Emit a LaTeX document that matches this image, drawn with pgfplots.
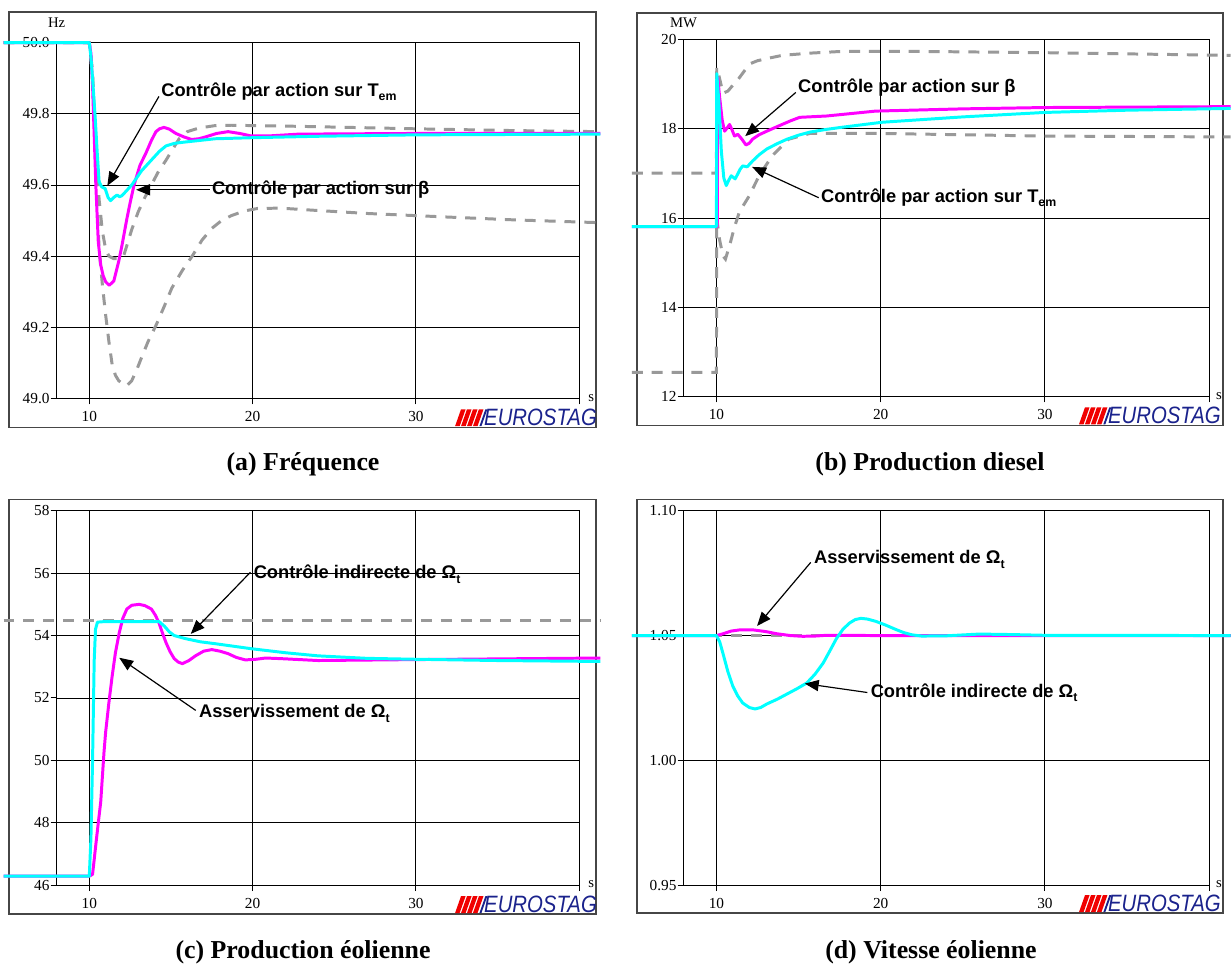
\documentclass[border=0pt]{standalone}
\usepackage{fontspec}
\setmainfont{Liberation Serif}
\newfontfamily\annf{Liberation Sans}
\usepackage{pgfplots}
\pgfplotsset{compat=1.18}
\usetikzlibrary{arrows.meta}

\definecolor{mag}{RGB}{255,0,255}
\definecolor{cyc}{RGB}{0,255,255}
\definecolor{gdash}{RGB}{153,153,153}
\definecolor{framec}{RGB}{70,70,70}
\definecolor{logoblue}{RGB}{26,34,140}
\definecolor{logored}{RGB}{240,0,0}

\newcommand\sub[1]{\raisebox{-0.45ex}{\fontsize{6.2}{6.2}\selectfont #1}}

\pgfplotsset{
  eurostag/.style={
    scale only axis, clip=false,
    xmin=8, xmax=40,
    xtick={10,20,30,40}, xticklabels={10,20,30,{}},
    grid=major, major grid style={black, line width=0.45pt},
    axis line style={black, line width=0.5pt},
    tick align=outside, tick pos=left, major tick length=3pt,
    tick style={black, line width=0.5pt},
    /pgf/number format/assume math mode=true,
    ticklabel style={font=\fontsize{7.7}{8.5}\selectfont},
    yticklabel style={inner sep=0.4pt},
  },
  mg/.style={draw=mag, line width=1.5pt, line join=round},
  cy/.style={draw=cyc, line width=1.5pt, line join=round},
  gd/.style={draw=gdash, line width=1.5pt, dash pattern=on 5.5pt off 4.5pt},
}

\tikzset{
  ann/.style={font=\annf\bfseries\fontsize{9.2}{10}\selectfont, anchor=west, inner sep=0pt},
  arr/.style={-{Triangle[length=7pt,width=5.6pt]}, line width=0.6pt, black},
  unit/.style={font=\fontsize{7.4}{8}\selectfont, inner sep=0pt},
  capt/.style={font=\bfseries\fontsize{13}{14}\selectfont, inner sep=0pt},
}

\newcommand\logo[2]{%
  \begin{scope}[shift={(#1,#2)}]
    \foreach \i in {0,1,2,3} {
      \fill[logored] ({\i*6},0) -- ({\i*6+4.6},0) -- ({\i*6+10.6},-17) -- ({\i*6+6},-17) -- cycle;
    }
    \fill[logoblue] (24.5,0) -- (26.5,0) -- (32.5,-17) -- (30.5,-17) -- cycle;
    \node[anchor=south west, inner sep=0pt, text=logoblue, xscale=0.86,
      font=\annf\itshape\fontsize{11.9}{12}\selectfont] at (29,0) {EUROSTAG};
  \end{scope}}

\begin{document}
\begin{tikzpicture}
\begin{scope}[x=0.5pt,y=-0.5pt]
  \path[use as bounding box] (0,0) rectangle (1232,970);
  \fill[white] (0,0) rectangle (1232,970);
  \draw[framec, line width=0.65pt] (9,12) rectangle (600,430);
  \draw[framec, line width=0.65pt] (641,13) rectangle (1231,428);
  \draw[framec, line width=0.65pt] (9,503) rectangle (600,920);
  \draw[framec, line width=0.65pt] (641,503) rectangle (1231,919);
\end{scope}

% ---------------- (a) Frequence ----------------
\begin{axis}[eurostag, at={(28.5pt,-200.5pt)}, anchor=south west,
  width=263pt, height=179pt, ymin=49, ymax=50,
  ytick={49.0,49.2,49.4,49.6,49.8,50.0},
  yticklabel style={/pgf/number format/.cd, fixed, fixed zerofill, precision=1}]
\addplot[gd] coordinates {
(4.75,50.0) (10.0,50.0) (10.2,49.92) (10.4,49.65) (10.6,49.42) (10.8,49.32)
(11.0,49.235) (11.2,49.16) (11.4,49.095) (11.6,49.065) (11.8,49.05) (12.05,49.04)
(12.3,49.036) (12.6,49.05) (12.9,49.08) (13.2,49.115) (13.6,49.16) (14.1,49.207)
(14.6,49.26) (15.05,49.31) (15.7,49.36) (16.3,49.40) (16.9,49.445) (17.5,49.478)
(18.1,49.50) (18.7,49.514) (19.5,49.527) (20.3,49.534) (21.7,49.535) (23.4,49.53)
(27.0,49.52) (31.9,49.51) (36.0,49.502) (41.3,49.494)};
\addplot[gd] coordinates {
(4.75,50.0) (10.0,50.0) (10.2,49.90) (10.4,49.72) (10.6,49.56) (10.8,49.47)
(11.0,49.42) (11.2,49.40) (11.5,49.393) (11.8,49.393) (12.1,49.40) (12.3,49.43)
(12.6,49.475) (13.0,49.525) (13.4,49.565) (13.8,49.60) (14.2,49.635) (14.7,49.67)
(15.1,49.70) (15.5,49.73) (16.0,49.75) (16.7,49.76) (17.7,49.767) (18.7,49.768)
(22.8,49.765) (30,49.758) (36,49.753) (41.3,49.75)};
\addplot[mg] coordinates {
(4.75,50.0) (10.0,50.0) (10.1,49.97) (10.2,49.88) (10.3,49.74) (10.4,49.60)
(10.55,49.44) (10.7,49.375) (10.85,49.345) (11.0,49.328) (11.22,49.318) (11.5,49.33)
(11.8,49.385) (12.0,49.43) (12.3,49.505) (12.5,49.55) (12.74,49.60) (13.1,49.655)
(13.47,49.69) (13.8,49.725) (14.08,49.75) (14.3,49.758) (14.57,49.762) (14.9,49.757)
(15.3,49.745) (15.8,49.735) (16.27,49.728) (16.7,49.73) (17.1,49.735) (17.8,49.745)
(18.5,49.75) (19.2,49.745) (19.9,49.738) (21,49.738) (22.8,49.743) (30,49.745) (41.3,49.745)};
\addplot[cy] coordinates {
(4.75,50.0) (10.0,50.0) (10.1,49.96) (10.2,49.90) (10.36,49.79) (10.5,49.68)
(10.6,49.61) (10.75,49.595) (10.97,49.59) (11.15,49.565) (11.3,49.556) (11.5,49.565)
(11.7,49.572) (11.85,49.567) (12.0,49.57) (12.3,49.585) (12.6,49.60) (12.9,49.62)
(13.2,49.64) (13.8,49.67) (14.3,49.695) (14.7,49.71) (15.2,49.717) (15.7,49.72)
(17.7,49.73) (20,49.733) (24,49.737) (30,49.741) (41.3,49.743)};
\end{axis}

% ---------------- (b) Production diesel ----------------
\begin{axis}[eurostag, at={(344pt,-199.5pt)}, anchor=south west,
  width=264.5pt, height=179.5pt, ymin=12, ymax=20,
  ytick={12,14,16,18,20}]
\addplot[gd] coordinates {
(4.85,17.01) (10.0,17.01) (10.02,19.38) (10.15,19.2) (10.4,18.8) (10.7,18.85)
(11.0,18.98) (11.3,19.1) (11.7,19.3) (12.1,19.47) (12.5,19.53) (13.1,19.58)
(14.0,19.65) (15.7,19.70) (17.7,19.74) (22,19.74) (30,19.71) (41.3,19.65)};
\addplot[gd] coordinates {
(4.85,12.54) (10.0,12.54) (10.02,16.0) (10.2,15.5) (10.4,15.15) (10.55,15.08)
(10.85,15.45) (11.1,15.8) (11.4,16.14) (12.0,16.5) (12.6,16.95) (13.4,17.4)
(14.4,17.77) (15.7,17.9) (19.7,17.9) (30,17.84) (41.3,17.82)};
\addplot[mg] coordinates {
(4.85,15.81) (10.05,15.81) (10.08,19.15) (10.2,18.7) (10.35,18.2) (10.5,17.95)
(10.65,18.02) (10.8,18.1) (10.95,17.98) (11.1,17.84) (11.3,17.88) (11.55,17.77)
(11.8,17.64) (12.0,17.68) (12.2,17.77) (12.6,17.87) (13.07,17.95) (13.5,18.02)
(14.0,18.1) (14.5,18.18) (15.07,18.26) (16.7,18.29) (19.7,18.40) (25,18.45)
(30,18.48) (41.3,18.5)};
\addplot[cy] coordinates {
(4.85,15.81) (10.0,15.81) (10.02,19.24) (10.15,18.6) (10.3,17.5) (10.45,16.9)
(10.6,16.73) (10.75,16.85) (10.9,16.95) (11.14,16.88) (11.3,16.99) (11.45,17.1)
(11.6,17.17) (11.75,17.16) (11.87,17.15) (12.05,17.22) (12.2,17.28) (12.6,17.42)
(13.07,17.55) (13.7,17.67) (14.3,17.77) (15.0,17.86) (15.7,17.93) (16.7,17.99)
(17.7,18.04) (20.1,18.15) (25,18.27) (30,18.37) (35,18.42) (41.3,18.46)};
\end{axis}

% ---------------- (c) Production eolienne ----------------
\begin{axis}[eurostag, at={(28.5pt,-445.5pt)}, anchor=south west,
  width=263pt, height=188.5pt, ymin=46, ymax=58,
  ytick={46,48,50,52,54,56,58}]
\addplot[gd] coordinates {(4.75,54.47) (41.3,54.47)};
\addplot[mg] coordinates {
(4.75,46.29) (10.0,46.29) (10.2,46.35) (10.4,47.3) (10.55,48.0) (10.7,48.67)
(10.9,50.26) (11.0,50.9) (11.2,51.85) (11.4,52.7) (11.6,53.45) (11.83,54.08)
(12.05,54.55) (12.3,54.85) (12.6,54.97) (13.05,55.0) (13.4,54.96) (13.8,54.85)
(14.05,54.65) (14.27,54.4) (14.5,54.05) (14.7,53.77) (14.95,53.48) (15.2,53.26)
(15.45,53.15) (15.7,53.1) (16.1,53.2) (16.5,53.35) (17.0,53.5) (17.5,53.55)
(18.0,53.5) (18.5,53.42) (19.0,53.3) (19.55,53.22) (20.2,53.24) (20.8,53.28)
(21.75,53.26) (24,53.2) (30,53.23) (41.3,53.28)};
\addplot[cy] coordinates {
(4.75,46.29) (10.0,46.29) (10.1,47.5) (10.2,50.0) (10.3,53.2) (10.38,54.2)
(10.5,54.43) (11,54.45) (14.27,54.45) (14.6,54.3) (14.9,54.12) (15.2,54.0)
(15.9,53.9) (16.8,53.8) (17.7,53.74) (19.9,53.58) (22,53.45) (24,53.35)
(27,53.27) (30,53.24) (35,53.2) (41.3,53.17)};
\end{axis}

% ---------------- (d) Vitesse eolienne ----------------
\begin{axis}[eurostag, at={(344pt,-445.5pt)}, anchor=south west,
  width=264.5pt, height=188.5pt, ymin=0.95, ymax=1.10,
  ytick={0.95,1.00,1.05,1.10},
  yticklabel style={/pgf/number format/.cd, fixed, fixed zerofill, precision=2}]
\addplot[gd] coordinates {(4.85,1.05) (41.3,1.05)};
\addplot[mg] coordinates {
(4.85,1.05) (10.0,1.05) (10.4,1.0507) (10.9,1.0518) (11.45,1.0523) (12.2,1.0523)
(13.0,1.0516) (13.7,1.0507) (14.5,1.0500) (15.25,1.0497) (16.0,1.0498) (16.7,1.0501)
(20,1.0500) (41.3,1.0500)};
\addplot[cy] coordinates {
(4.85,1.05) (10.0,1.05) (10.2,1.0475) (10.4,1.0428) (10.7,1.0355) (11.0,1.0297)
(11.3,1.0258) (11.6,1.0230) (12.0,1.0212) (12.35,1.0206) (12.7,1.0212) (13.07,1.0226)
(13.7,1.0245) (14.3,1.0266) (14.9,1.0287) (15.5,1.031) (16.0,1.0345) (16.5,1.039)
(16.9,1.0438) (17.3,1.0487) (17.7,1.0525) (18.1,1.055) (18.45,1.0564) (18.8,1.0569)
(19.2,1.0566) (19.7,1.0557) (20.3,1.0542) (20.9,1.0525) (21.4,1.0512) (21.9,1.0503)
(22.5,1.0498) (24,1.0499) (26,1.0506) (28,1.0504) (30,1.0501) (41.3,1.05)};
\end{axis}

\begin{scope}[x=0.5pt,y=-0.5pt]
  % units
  \node[unit] at (57,23) {Hz};
  \node[unit] at (688,23) {MW};
  \node[unit] at (595,401) {s};
  \node[unit] at (1227,399) {s};
  \node[unit] at (595,890) {s};
  \node[unit] at (1227,890) {s};
  % annotations (a)
  \node[ann] at (162,92) {Contrôle par action sur T\sub{em}};
  \draw[arr] (160,97) -- (108,187);
  \node[ann] at (213,191) {Contrôle par action sur β};
  \draw[arr] (211,191) -- (137,191);
  % annotations (b)
  \node[ann] at (803,88) {Contrôle par action sur β};
  \draw[arr] (801,93) -- (750,137);
  \node[ann] at (826,199) {Contrôle par action sur T\sub{em}};
  \draw[arr] (824,199) -- (757,168);
  % annotations (c)
  \node[ann] at (255,578) {Contrôle indirecte de Ω\sub{t}};
  \draw[arr] (252,576) -- (192,638);
  \node[ann] at (200,718) {Asservissement de Ω\sub{t}};
  \draw[arr] (197,715) -- (120,662);
  % annotations (d)
  \node[ann] at (819,563) {Asservissement de Ω\sub{t}};
  \draw[arr] (816,566) -- (762,630);
  \node[ann] at (876,697) {Contrôle indirecte de Ω\sub{t}};
  \draw[arr] (873,697) -- (810,688);
  % logos
  \logo{458}{429}
  \logo{1086}{427}
  \logo{458}{919}
  \logo{1086}{918}
  % captions
  \node[capt] at (305,467) {(a) Fréquence};
  \node[capt] at (936,467) {(b) Production diesel};
  \node[capt] at (305,958) {(c) Production éolienne};
  \node[capt] at (937,958) {(d) Vitesse éolienne};
\end{scope}
\end{tikzpicture}
\end{document}
